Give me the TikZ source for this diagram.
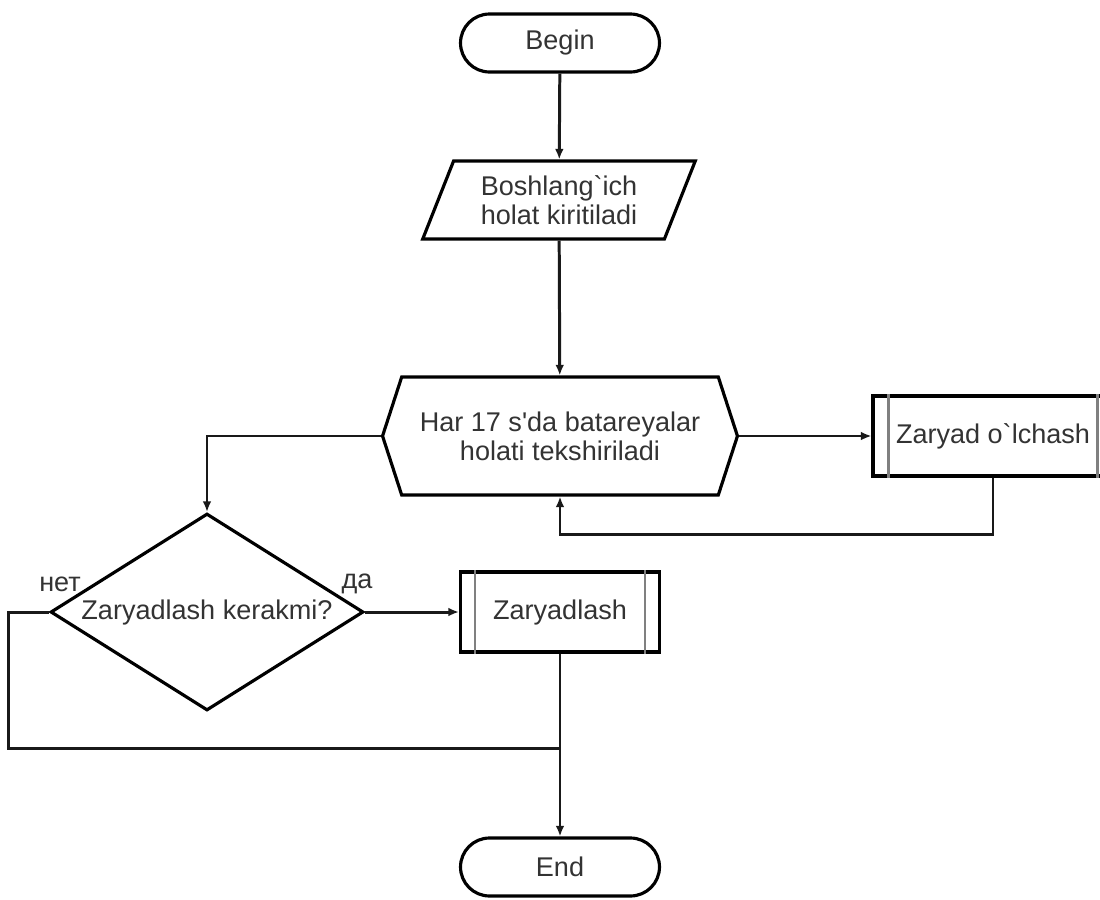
\documentclass[tikz,border=0pt]{standalone}
\usepackage{fontspec}
\setmainfont{Liberation Sans}
\usetikzlibrary{shapes.geometric, shapes.symbols, arrows.meta}

\begin{document}
\begin{tikzpicture}[x=0.02cm, y=-0.02cm,
    every node/.style={font=\fontsize{15.4}{16.5}\selectfont, text=black!80, align=center},
    block/.style={draw=black, line width=1.8pt, text=black!80},
    terminal/.style={block, rectangle, rounded corners=0.58cm, minimum width=3.98cm, minimum height=1.16cm},
    io/.style={block, trapezium, trapezium left angle=68, trapezium right angle=112, trapezium stretches=true, minimum width=5.46cm, minimum height=1.56cm},
    prep/.style={block, signal, signal to=west and east, signal pointer angle=144, minimum width=7.1cm, minimum height=2.36cm},
    decision/.style={block, diamond, aspect=1.6, inner sep=0pt, minimum width=6.26cm, minimum height=3.94cm},
    subproc/.style={block, rectangle, minimum height=1.6cm},
    flow/.style={line width=1.7pt, black!90},
    arr/.style={flow, -{Latex[length=6pt,width=5pt]}}]
    \useasboundingbox (0,0) rectangle (1100,900);

    \node[terminal] (begin) at (560,43) {Begin};
    \node[io] (input) at (559,200) {Boshlang\textasciigrave ich\\holat kiritiladi};
    \node[prep] (check) at (560,436) {Har 17 s\textquotesingle da batareyalar\\holati tekshiriladi};
    \node[subproc, minimum width=4.8cm] (meas) at (993,436) {Zaryad o\textasciigrave lchash};
    \node[decision] (ask) at (207,612) {Zaryadlash kerakmi?};
    \node[subproc, minimum width=3.98cm] (charge) at (560,612) {Zaryadlash};
    \node[terminal] (end) at (560,867) {End};

    \draw[gray, line width=1.5pt] ([xshift=0.34cm]meas.north west) -- ([xshift=0.34cm]meas.south west);
    \draw[gray, line width=1.5pt] ([xshift=-0.34cm]meas.north east) -- ([xshift=-0.34cm]meas.south east);
    \draw[gray, line width=1.5pt] ([xshift=0.32cm]charge.north west) -- ([xshift=0.32cm]charge.south west);
    \draw[gray, line width=1.5pt] ([xshift=-0.32cm]charge.north east) -- ([xshift=-0.32cm]charge.south east);

    \node (no) at (60,584) {нет};
    \node (yes) at (357,584) {да};
    \coordinate (join) at (560,748);

    \draw[arr] (begin) -- (input);
    \draw[arr] (input) -- (check);
    \draw[arr] (check.east) -- (meas.west);
    \draw[arr] (meas.south) -- ++(0,57) -| (check.south);
    \draw[arr] (check.west) -| (ask.north);
    \draw[arr] (ask.east) -- (charge.west);
    \draw[flow] (ask.west) -- ++(-40,0) |- (join);
    \draw[arr] (charge) -- (end);
\end{tikzpicture}
\end{document}
